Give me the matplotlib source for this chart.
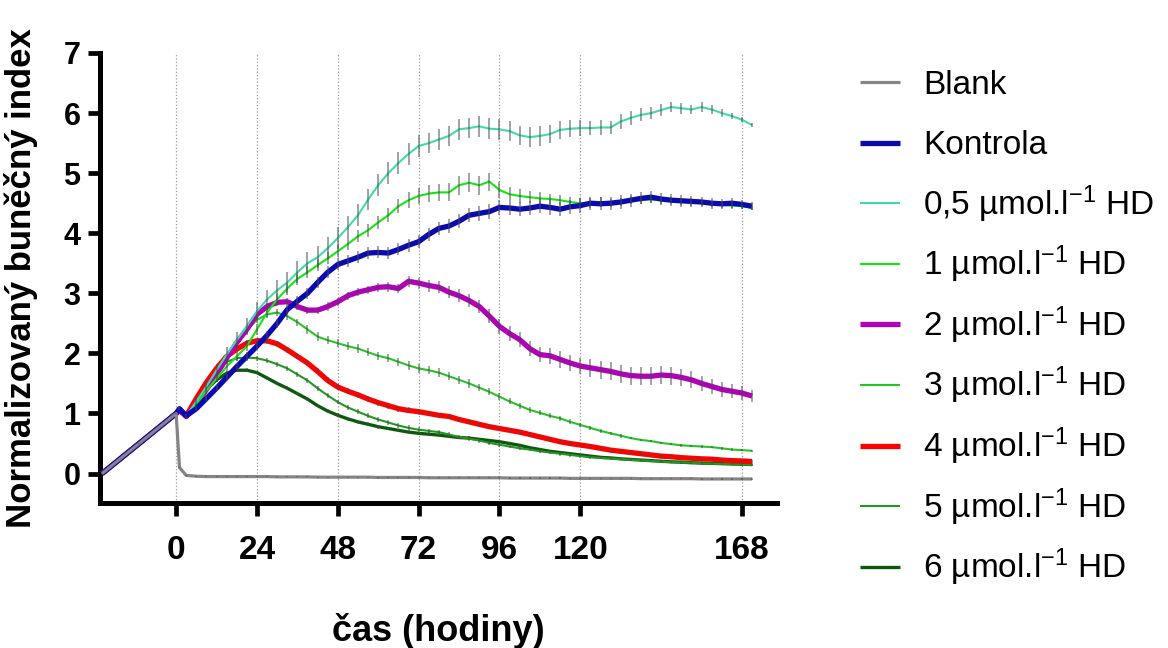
import matplotlib.pyplot as plt
from matplotlib.lines import Line2D

plt.rcParams['font.family'] = ['Liberation Sans', 'DejaVu Sans']
plt.rcParams['mathtext.fontset'] = 'custom'
plt.rcParams['mathtext.rm'] = 'Liberation Sans'
plt.rcParams['mathtext.it'] = 'Liberation Sans:italic'
plt.rcParams['mathtext.bf'] = 'Liberation Sans:bold'

W, H = 1168, 648

# time after treatment (h); -22 = start of measurement
hours = [-22, -11, 0, 1] + list(range(3, 172, 3))

blank = [0, 0.5, 1.0, 0.10,
         -0.03, -0.045, -0.05, -0.05, -0.05, -0.05, -0.05, -0.05, -0.05, -0.055,
         -0.055, -0.055, -0.055, -0.06, -0.06, -0.06, -0.06, -0.06, -0.06, -0.065,
         -0.065, -0.065, -0.065, -0.065, -0.07, -0.07, -0.07, -0.07, -0.07, -0.07,
         -0.07, -0.07, -0.075, -0.075, -0.075, -0.075, -0.075, -0.075, -0.08, -0.08,
         -0.08, -0.08, -0.08, -0.08, -0.08, -0.085, -0.085, -0.085, -0.085, -0.085,
         -0.085, -0.09, -0.09, -0.09, -0.09, -0.09, -0.09]
kontrola = [0, 0.5, 1.0, 1.08,
            0.96, 1.08, 1.25, 1.42, 1.60, 1.78, 1.95, 2.12, 2.30, 2.50,
            2.73, 2.87, 3.00, 3.18, 3.35, 3.48, 3.54, 3.60, 3.67, 3.68,
            3.67, 3.73, 3.80, 3.86, 3.98, 4.08, 4.12, 4.20, 4.30, 4.33,
            4.36, 4.43, 4.42, 4.40, 4.42, 4.45, 4.43, 4.40, 4.44, 4.46,
            4.50, 4.49, 4.50, 4.52, 4.55, 4.58, 4.60, 4.57, 4.55, 4.54,
            4.53, 4.52, 4.50, 4.49, 4.50, 4.48, 4.45]
hd_05 = [0, 0.5, 1.0, 1.05,
         0.96, 1.20, 1.45, 1.72, 1.98, 2.22, 2.45, 2.70, 2.90, 3.05,
         3.18, 3.35, 3.50, 3.60, 3.75, 3.92, 4.10, 4.30, 4.56, 4.80,
         5.00, 5.17, 5.32, 5.45, 5.50, 5.56, 5.62, 5.73, 5.75, 5.78,
         5.74, 5.73, 5.70, 5.63, 5.60, 5.62, 5.65, 5.72, 5.74, 5.75,
         5.75, 5.76, 5.76, 5.86, 5.92, 5.97, 6.00, 6.05, 6.10, 6.08,
         6.06, 6.10, 6.06, 6.00, 5.95, 5.89, 5.80]
hd_1 = [0, 0.5, 1.0, 1.05,
        0.96, 1.15, 1.38, 1.58, 1.78, 1.95, 2.12, 2.40, 2.68, 2.90,
        3.08, 3.24, 3.35, 3.47, 3.58, 3.70, 3.82, 3.95, 4.05, 4.18,
        4.30, 4.45, 4.55, 4.62, 4.66, 4.68, 4.68, 4.80, 4.84, 4.80,
        4.86, 4.72, 4.65, 4.62, 4.60, 4.58, 4.57, 4.55, 4.52, 4.50,
        4.50, 4.52, 4.50, 4.52, 4.55, 4.55, 4.56, 4.55, 4.54, 4.53,
        4.52, 4.50, 4.48, 4.47, 4.46, 4.45, 4.42]
hd_2 = [0, 0.5, 1.0, 1.06,
        0.95, 1.15, 1.40, 1.65, 1.92, 2.18, 2.40, 2.65, 2.78, 2.85,
        2.86, 2.78, 2.72, 2.72, 2.78, 2.86, 2.96, 3.02, 3.06, 3.10,
        3.11, 3.08, 3.20, 3.17, 3.13, 3.10, 3.02, 2.96, 2.88, 2.78,
        2.62, 2.45, 2.33, 2.23, 2.08, 1.98, 1.96, 1.90, 1.84, 1.79,
        1.76, 1.73, 1.70, 1.66, 1.63, 1.62, 1.62, 1.64, 1.63, 1.60,
        1.56, 1.50, 1.45, 1.40, 1.37, 1.34, 1.29]
hd_3 = [0, 0.5, 1.0, 1.05,
        0.96, 1.15, 1.40, 1.65, 1.90, 2.15, 2.38, 2.56, 2.65, 2.68,
        2.62, 2.52, 2.40, 2.28, 2.22, 2.17, 2.12, 2.08, 2.02, 1.96,
        1.92, 1.86, 1.80, 1.75, 1.72, 1.68, 1.62, 1.56, 1.50, 1.43,
        1.36, 1.28, 1.20, 1.13, 1.06, 1.01, 0.96, 0.92, 0.86, 0.81,
        0.76, 0.71, 0.67, 0.63, 0.59, 0.56, 0.54, 0.51, 0.49, 0.47,
        0.46, 0.45, 0.44, 0.42, 0.40, 0.39, 0.38]
hd_4 = [0, 0.5, 1.0, 1.05,
        0.96, 1.25, 1.52, 1.75, 1.95, 2.07, 2.17, 2.21, 2.21, 2.16,
        2.06, 1.95, 1.84, 1.70, 1.55, 1.44, 1.37, 1.31, 1.24, 1.18,
        1.13, 1.08, 1.05, 1.03, 1.00, 0.97, 0.95, 0.90, 0.86, 0.82,
        0.78, 0.75, 0.72, 0.69, 0.65, 0.61, 0.57, 0.53, 0.50, 0.475,
        0.45, 0.42, 0.39, 0.37, 0.35, 0.33, 0.31, 0.29, 0.28, 0.265,
        0.255, 0.245, 0.24, 0.225, 0.215, 0.21, 0.20]
hd_5 = [0, 0.5, 1.0, 1.05,
        0.96, 1.22, 1.48, 1.70, 1.86, 1.92, 1.93, 1.92, 1.88, 1.82,
        1.75, 1.65, 1.55, 1.42, 1.30, 1.19, 1.10, 1.03, 0.96, 0.90,
        0.85, 0.80, 0.76, 0.73, 0.71, 0.69, 0.65, 0.61, 0.58, 0.55,
        0.51, 0.48, 0.45, 0.42, 0.40, 0.37, 0.35, 0.33, 0.31, 0.29,
        0.27, 0.26, 0.25, 0.24, 0.23, 0.22, 0.21, 0.20, 0.19, 0.185,
        0.18, 0.17, 0.165, 0.16, 0.155, 0.15, 0.145]
hd_6 = [0, 0.5, 1.0, 1.05,
        0.96, 1.18, 1.40, 1.56, 1.67, 1.72, 1.72, 1.68, 1.59, 1.50,
        1.42, 1.33, 1.24, 1.13, 1.04, 0.97, 0.91, 0.86, 0.82, 0.78,
        0.75, 0.72, 0.69, 0.67, 0.655, 0.64, 0.62, 0.60, 0.59, 0.57,
        0.55, 0.53, 0.50, 0.47, 0.43, 0.40, 0.37, 0.35, 0.33, 0.31,
        0.29, 0.27, 0.26, 0.245, 0.235, 0.225, 0.215, 0.205, 0.195, 0.19,
        0.18, 0.175, 0.17, 0.165, 0.16, 0.155, 0.15]

# standard deviations
sd_blank = [0.0, 0.01, 0.01, 0.01,
            0.01, 0.01, 0.01, 0.01, 0.01, 0.01, 0.01, 0.01, 0.01, 0.01,
            0.01, 0.01, 0.01, 0.01, 0.01, 0.01, 0.01, 0.01, 0.01, 0.01,
            0.01, 0.01, 0.01, 0.01, 0.01, 0.01, 0.01, 0.01, 0.01, 0.01,
            0.01, 0.01, 0.01, 0.01, 0.01, 0.01, 0.01, 0.01, 0.01, 0.01,
            0.01, 0.01, 0.01, 0.01, 0.01, 0.01, 0.01, 0.01, 0.01, 0.01,
            0.01, 0.01, 0.01, 0.01, 0.01, 0.01, 0.01]
sd_kontrola = [0.0, 0.01, 0.01, 0.02,
               0.03, 0.04, 0.05, 0.05, 0.06, 0.06, 0.07, 0.07, 0.08, 0.08,
               0.08, 0.09, 0.09, 0.09, 0.10, 0.10, 0.10, 0.10, 0.10, 0.10,
               0.10, 0.10, 0.11, 0.11, 0.11, 0.11, 0.12, 0.12, 0.12, 0.12,
               0.12, 0.12, 0.12, 0.12, 0.12, 0.12, 0.12, 0.12, 0.12, 0.12,
               0.11, 0.11, 0.11, 0.11, 0.11, 0.10, 0.10, 0.10, 0.10, 0.10,
               0.09, 0.09, 0.09, 0.08, 0.08, 0.08, 0.07]
sd_05 = [0.0, 0.01, 0.01, 0.02,
         0.04, 0.06, 0.08, 0.10, 0.12, 0.13, 0.14, 0.15, 0.16, 0.17,
         0.17, 0.18, 0.18, 0.18, 0.18, 0.18, 0.18, 0.18, 0.18, 0.18,
         0.18, 0.18, 0.18, 0.18, 0.17, 0.17, 0.17, 0.17, 0.17, 0.17,
         0.17, 0.17, 0.17, 0.16, 0.16, 0.16, 0.15, 0.15, 0.14, 0.13,
         0.12, 0.12, 0.11, 0.12, 0.12, 0.11, 0.10, 0.10, 0.09, 0.09,
         0.08, 0.08, 0.07, 0.06, 0.05, 0.04, 0.04]
sd_1 = [0.0, 0.01, 0.01, 0.02,
        0.03, 0.04, 0.05, 0.06, 0.07, 0.08, 0.08, 0.09, 0.09, 0.10,
        0.10, 0.10, 0.10, 0.10, 0.10, 0.10, 0.10, 0.10, 0.11, 0.11,
        0.12, 0.12, 0.13, 0.13, 0.14, 0.14, 0.15, 0.16, 0.16, 0.16,
        0.15, 0.14, 0.12, 0.11, 0.10, 0.10, 0.09, 0.09, 0.08, 0.08,
        0.08, 0.08, 0.07, 0.07, 0.07, 0.07, 0.06, 0.06, 0.06, 0.06,
        0.06, 0.05, 0.05, 0.05, 0.05, 0.04, 0.04]
sd_2 = [0.0, 0.01, 0.01, 0.01,
        0.02, 0.03, 0.03, 0.04, 0.04, 0.05, 0.05, 0.06, 0.06, 0.06,
        0.06, 0.06, 0.06, 0.06, 0.07, 0.07, 0.07, 0.07, 0.07, 0.08,
        0.08, 0.08, 0.09, 0.09, 0.10, 0.10, 0.10, 0.11, 0.11, 0.11,
        0.12, 0.12, 0.12, 0.12, 0.13, 0.13, 0.13, 0.14, 0.14, 0.14,
        0.15, 0.15, 0.15, 0.15, 0.15, 0.15, 0.15, 0.15, 0.15, 0.14,
        0.14, 0.13, 0.13, 0.12, 0.12, 0.11, 0.10]
sd_3 = [0.0, 0.01, 0.01, 0.01,
        0.02, 0.02, 0.03, 0.03, 0.04, 0.04, 0.05, 0.05, 0.05, 0.06,
        0.06, 0.06, 0.07, 0.07, 0.07, 0.07, 0.07, 0.07, 0.07, 0.07,
        0.07, 0.07, 0.07, 0.07, 0.07, 0.07, 0.07, 0.07, 0.07, 0.06,
        0.06, 0.06, 0.05, 0.05, 0.05, 0.04, 0.04, 0.04, 0.04, 0.03,
        0.03, 0.03, 0.03, 0.03, 0.02, 0.02, 0.02, 0.02, 0.02, 0.02,
        0.02, 0.02, 0.02, 0.02, 0.02, 0.02, 0.02]
sd_4 = [0.0, 0.01, 0.01, 0.01,
        0.02, 0.03, 0.03, 0.04, 0.04, 0.04, 0.05, 0.05, 0.05, 0.05,
        0.05, 0.05, 0.05, 0.05, 0.05, 0.05, 0.05, 0.05, 0.05, 0.05,
        0.05, 0.05, 0.05, 0.05, 0.04, 0.04, 0.04, 0.04, 0.04, 0.04,
        0.04, 0.04, 0.04, 0.04, 0.04, 0.04, 0.04, 0.04, 0.04, 0.04,
        0.03, 0.03, 0.03, 0.03, 0.03, 0.03, 0.03, 0.03, 0.03, 0.03,
        0.03, 0.03, 0.03, 0.03, 0.03, 0.03, 0.03]
sd_5 = [0.0, 0.01, 0.01, 0.01,
        0.02, 0.03, 0.03, 0.04, 0.04, 0.04, 0.04, 0.04, 0.04, 0.04,
        0.04, 0.04, 0.04, 0.04, 0.04, 0.04, 0.04, 0.04, 0.04, 0.04,
        0.04, 0.04, 0.04, 0.04, 0.04, 0.04, 0.04, 0.04, 0.04, 0.04,
        0.03, 0.03, 0.03, 0.03, 0.03, 0.03, 0.03, 0.03, 0.03, 0.03,
        0.02, 0.02, 0.02, 0.02, 0.02, 0.02, 0.02, 0.02, 0.02, 0.02,
        0.02, 0.02, 0.02, 0.02, 0.02, 0.02, 0.02]
sd_6 = [0.0, 0.01, 0.01, 0.01,
        0.02, 0.02, 0.03, 0.03, 0.03, 0.03, 0.03, 0.03, 0.03, 0.03,
        0.03, 0.03, 0.03, 0.03, 0.03, 0.03, 0.03, 0.03, 0.03, 0.03,
        0.03, 0.03, 0.03, 0.03, 0.03, 0.03, 0.03, 0.03, 0.03, 0.03,
        0.02, 0.02, 0.02, 0.02, 0.02, 0.02, 0.02, 0.02, 0.02, 0.02,
        0.02, 0.02, 0.02, 0.02, 0.02, 0.02, 0.02, 0.02, 0.02, 0.02,
        0.02, 0.02, 0.02, 0.02, 0.02, 0.02, 0.02]

labels = ['Blank', 'Kontrola',
          r'0,5 µmol.l$^{-1}$ HD', r'1 µmol.l$^{-1}$ HD', r'2 µmol.l$^{-1}$ HD',
          r'3 µmol.l$^{-1}$ HD', r'4 µmol.l$^{-1}$ HD', r'5 µmol.l$^{-1}$ HD',
          r'6 µmol.l$^{-1}$ HD']
values = [blank, kontrola, hd_05, hd_1, hd_2, hd_3, hd_4, hd_5, hd_6]
errors = [sd_blank, sd_kontrola, sd_05, sd_1, sd_2, sd_3, sd_4, sd_5, sd_6]
colors = ['#858585', '#0a0ab0', '#3ddcae', '#14e614', '#b000b8',
          '#26c426', '#ff0000', '#1f9a1f', '#0b5a0b']
widths = [2.3, 3.8, 1.5, 1.5, 3.8, 1.5, 3.8, 1.5, 2.4]

fig = plt.figure(figsize=(W / 100, H / 100), dpi=100)
ax = fig.add_axes([100 / W, 1 - 503 / H, 677 / W, 450 / H])

n = len(values)
for i, (lab, y, err, c, lw) in enumerate(zip(labels, values, errors, colors, widths)):
    # later groups go underneath, so the control and blank stay on top
    z = 3 + 2 * (n - i)
    ax.plot(hours, y, color=c, lw=lw, label=lab, zorder=z,
            solid_joinstyle='round', solid_capstyle='butt')
    ax.errorbar(hours, y, yerr=err, fmt='none', ecolor='#4a4a4a',
                elinewidth=1.1, alpha=0.65, capsize=0, zorder=z + 1)

ax.set_xlim(-22.6, 178.4)
ax.set_ylim(-0.49, 7)
ax.set_xticks([0, 24, 48, 72, 96, 120, 168])
ax.set_yticks(range(0, 8))
ax.grid(axis='x', linestyle=':', color='#9a9a9a', lw=0.9)
ax.set_axisbelow(True)

for side in ['top', 'right']:
    ax.spines[side].set_visible(False)
for side in ['left', 'bottom']:
    ax.spines[side].set_linewidth(3.6)
ax.tick_params(axis='both', width=3.4, length=9, direction='out')
ax.tick_params(axis='y', pad=5)
ax.tick_params(axis='x', pad=14)

for t in ax.get_yticklabels():
    t.set_fontsize(22)
    t.set_fontweight('bold')
for t in ax.get_xticklabels():
    t.set_fontsize(24)
    t.set_fontweight('bold')

ax.set_ylabel('Normalizovaný buněčný index', fontsize=25, fontweight='bold')
ax.yaxis.set_label_coords(-0.092, 0.5)
ax.set_xlabel('čas (hodiny)', fontsize=26, fontweight='bold')
ax.xaxis.set_label_coords(0.5, -0.245)

# legend on the right, one row per group
row0, pitch = 82, 60.6
for i, (lab, c, lw) in enumerate(zip(labels, colors, widths)):
    yrow = 1 - (row0 + pitch * i) / H
    fig.add_artist(Line2D([860 / W, 900 / W], [yrow, yrow], color=c, lw=lw,
                          solid_capstyle='butt', transform=fig.transFigure))
    fig.text(923 / W, yrow - 11.5 / H, lab, fontsize=24, va='baseline', ha='left')

fig.savefig('out.png', dpi=100)
